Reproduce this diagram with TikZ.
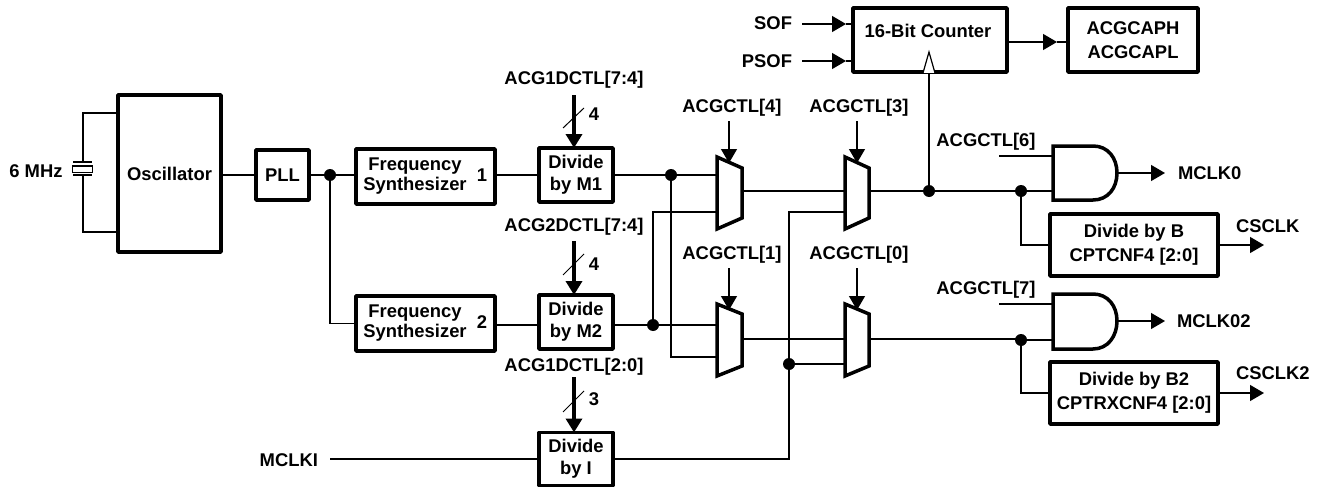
\documentclass[tikz,border=0pt]{standalone}
\usepackage{fontspec}
\setmainfont{Liberation Sans}
\usetikzlibrary{arrows.meta}
\newcommand{\fsA}{\fontsize{18.4}{20}\selectfont\bfseries}
\newcommand{\fsB}{\fontsize{18.4}{22}\selectfont\bfseries}
\newcommand{\fsC}{\fontsize{18.4}{24}\selectfont\bfseries}
\tikzset{
  x=1pt,y=-1pt,
  every node/.style={font=\fsA,inner sep=0pt,outer sep=0pt},
  wire/.style={line width=1.3pt,draw=black},
  tk/.style={line width=3.5pt,draw=black},
  blk/.style={tk,fill=white,align=center,line join=round},
  lab/.style={align=center},
  dotn/.style={circle,fill=black,minimum size=12pt},
  arr/.style={wire,-{Triangle[length=14pt,width=16pt]}},
  bus/.style={line width=3.5pt,-{Triangle[length=14pt,width=16pt]}},
  slash/.style={line width=1pt},
  gate/.style={tk,fill=white,line join=miter},
}
\begin{document}
\begin{tikzpicture}
\useasboundingbox (0,0) rectangle (1317,487);
% blocks
\node[blk,minimum width=103pt,minimum height=157pt] (osc) at (169.5,173.5) {Oscillator};
\node[blk,minimum width=53pt,minimum height=50pt] (pll) at (282.5,175) {PLL};
\node[blk,minimum width=139pt,minimum height=55pt] (fs1) at (425.5,176.5) {};
\node[blk,minimum width=139pt,minimum height=55pt] (fs2) at (425.5,323.5) {};
\node[lab] (fs1t) at (415,176) {Frequency\\Synthesizer};
\node[lab] (fs2t) at (415,323) {Frequency\\Synthesizer};
\node (fs1n) at (482,175) {1};
\node (fs2n) at (482,322) {2};
\node[blk,font=\fsB,minimum width=74pt,minimum height=54pt] (m1) at (576,175) {Divide\\by M1};
\node[blk,font=\fsB,minimum width=74pt,minimum height=54pt] (m2) at (576,322) {Divide\\by M2};
\node[blk,font=\fsB,minimum width=74pt,minimum height=53pt] (mi) at (576,459) {Divide\\by I};
\node[blk,minimum width=154pt,minimum height=64pt] (cnt) at (930,40) {};
\node (cntt) at (928,31) {16-Bit Counter};
\node[blk,font=\fsC,minimum width=130pt,minimum height=64pt] (cap) at (1133,40) {ACGCAPH\\ACGCAPL};
\node[blk,font=\fsC,minimum width=168pt,minimum height=62pt] (db) at (1134,245) {Divide by B\\CPTCNF4 [2:0]};
\node[blk,font=\fsC,minimum width=168pt,minimum height=62pt] (db2) at (1134,393) {Divide by B2\\CPTRXCNF4 [2:0]};
% labels
\node (l6m) at (36,171) {6 MHz};
\node (lsof) [anchor=east] at (792,23) {SOF};
\node (lpsof) [anchor=east] at (792,61) {PSOF};
\node (lg1) at (574,80) {ACG1DCTL[7:4]};
\node (lg2) at (574,227) {ACG2DCTL[7:4]};
\node (lg3) at (574,367) {ACG1DCTL[2:0]};
\node (n4a) at (594,114) {4};
\node (n4b) at (594,264) {4};
\node (n3) at (594,399) {3};
\node (lc4) at (732,108) {ACGCTL[4]};
\node (lc3) at (859,108) {ACGCTL[3]};
\node (lc1) at (732,255) {ACGCTL[1]};
\node (lc0) at (859,255) {ACGCTL[0]};
\node (lc6) at (986,142) {ACGCTL[6]};
\node (lc7) at (986,290) {ACGCTL[7]};
\node (lmi) [anchor=east] at (318,460) {MCLKI};
\node (lm0) [anchor=west] at (1178,173) {MCLK0};
\node (lm2) [anchor=west] at (1177,321) {MCLK02};
\node (lcs) [anchor=west] at (1236,226) {CSCLK};
\node (lcs2) [anchor=west] at (1236,373) {CSCLK2};
% junctions
\node[dotn] (d0) at (330,175) {};
\node[dotn] (d1) at (671,175) {};
\node[dotn] (d2) at (653,325) {};
\node[dotn] (d3) at (789,364) {};
\node[dotn] (d4) at (929,191) {};
\node[dotn] (d5) at (1021,191) {};
\node[dotn] (d6) at (1021,340) {};
% crystal
\coordinate (xt) at (83,113);
\coordinate (xb) at (83,232);
\coordinate (xp1) at (83,162);
\coordinate (xp2) at (83,175);
\draw[wire] (osc.west |- xt) -- (xt) -- (xp1);
\draw[wire] (osc.west |- xb) -- (xb) -- (xp2);
\draw[line width=1.3pt] (73,162) -- (92,162) (73,175) -- (92,175);
\draw[line width=1.3pt] (72.5,166) rectangle (92.5,172.5);
% main wires
\draw[wire] (osc.east |- pll) -- (pll);
\draw[wire] (pll) -- (d0);
\draw[wire] (d0) |- (fs2);
\draw[wire] (d0) -- (fs1.west |- d0);
\draw[wire] (fs1.east |- m1) -- (m1);
\draw[wire] (fs2.east |- d2) -- (m2.west |- d2);
\draw[wire] (m1) -- (d1);
\coordinate (ma1a) at (717,175);
\coordinate (ma1b) at (717,212);
\coordinate (ma1o) at (742,191);
\coordinate (ma2o) at (845,191);
\coordinate (ma2b) at (845,212);
\coordinate (ma2r) at (869,191);
\coordinate (ma3a) at (717,325);
\coordinate (ma3b) at (717,357);
\coordinate (ma3o) at (742,339);
\coordinate (ma4a) at (845,339);
\coordinate (ma4b) at (845,364);
\coordinate (ma4r) at (869,339);
\coordinate (a1in) at (1053,191);
\coordinate (a1ct) at (1053,156);
\coordinate (a1ce) at (999,156);
\coordinate (a2in) at (1053,340);
\coordinate (a2ct) at (1053,304);
\coordinate (a2ce) at (999,304);
\coordinate (a1o) at (1117,173);
\coordinate (a2o) at (1117,321);
\draw[wire] (d1) -- (ma1a);
\draw[wire] (d1) |- (ma3b);
\draw[wire] (d2) |- (ma1b);
\draw[wire] (m2.east |- d2) -- (d2);
\draw[wire] (d2) -- (ma3a);
\draw[wire] (ma1o) -- (ma2o);
\draw[wire] (ma3o) -- (ma4a);
\draw[wire] (mi) -| (d3);
\draw[wire] (d3) |- (ma2b);
\draw[wire] (d3) -- (ma4b);
\draw[wire] (lmi.east |- mi) ++(12,0) -- (mi);
\draw[wire] (ma2r) -- (d4);
\draw[wire] (d4) -- (d5);
\draw[wire] (d5) -- (a1in);
\draw[wire] (ma4r) -- (ma4r -| d6) -- (d6);
\draw[wire] (d6) -- (a2in);
\draw[wire] (d5) |- (db);
\draw[wire] (d6) |- (db2);
\draw[wire] (a1ce) -- (a1ct);
\draw[wire] (a2ce) -- (a2ct);
% counter clock
\coordinate (ck) at (929,73);
\draw[wire] (d4) -- (ck);
\draw[line width=1.2pt,fill=white,line join=miter] (923,73) -- (929,52) -- (935,73);
% counter i/o
\coordinate (s0) at (802,24);
\coordinate (s1) at (846,24);
\coordinate (p0) at (802,61);
\coordinate (p1) at (846,61);
\draw[arr] (s0) -- (s1);
\draw[wire] (s1) -- (cnt.west |- s1);
\draw[arr] (p0) -- (p1);
\draw[wire] (p1) -- (cnt.west |- p1);
\coordinate (c1) at (1057,42);
\draw[arr] (cnt.east |- c1) -- (c1);
\draw[wire] (c1) -- (cap.west |- c1);
% buses
\coordinate (b1) at (574,95);
\coordinate (b2) at (574,241);
\coordinate (b3) at (574,377);
\draw[bus] (b1) -- (b1 |- m1.north);
\draw[bus] (b2) -- (b2 |- m2.north);
\draw[bus] (b3) -- (b3 |- mi.north);
\draw[slash] (563,128) -- (584,108);
\draw[slash] (563,275) -- (584,254);
\draw[slash] (563,412) -- (584,391);
% mux shapes
\draw[gate] (717,157) -- (742,168) -- (742,218) -- (717,229) -- cycle;
\draw[gate] (845,157) -- (869,168) -- (869,218) -- (845,229) -- cycle;
\draw[gate] (717,304) -- (742,314) -- (742,366) -- (717,376) -- cycle;
\draw[gate] (845,304) -- (869,314) -- (869,366) -- (845,376) -- cycle;
% select arrows
\coordinate (s4a) at (729,121); \coordinate (s4b) at (729,163);
\coordinate (s3a) at (857,121); \coordinate (s3b) at (857,163);
\coordinate (s1a) at (729,268); \coordinate (s1b) at (729,310);
\coordinate (s0a) at (857,268); \coordinate (s0b) at (857,310);
\draw[arr] (s4a) -- (s4b);
\draw[arr] (s3a) -- (s3b);
\draw[arr] (s1a) -- (s1b);
\draw[arr] (s0a) -- (s0b);
% AND gates
\draw[gate] (1053,146) -- (1093,146) .. controls (1108,146) and (1117,158) .. (1117,173) .. controls (1117,188) and (1108,200) .. (1093,200) -- (1053,200) -- cycle;
\draw[gate] (1053,294) -- (1093,294) .. controls (1108,294) and (1117,306) .. (1117,321) .. controls (1117,336) and (1108,349) .. (1093,349) -- (1053,349) -- cycle;
% outputs
\coordinate (om0) at (1165,173);
\coordinate (om2) at (1165,321);
\coordinate (oc1) at (1264,245);
\coordinate (oc2) at (1264,393);
\draw[arr] (a1o) -- (om0);
\draw[arr] (a2o) -- (om2);
\draw[arr] (db) -- (oc1);
\draw[arr] (db2) -- (oc2);
\end{tikzpicture}
\end{document}
